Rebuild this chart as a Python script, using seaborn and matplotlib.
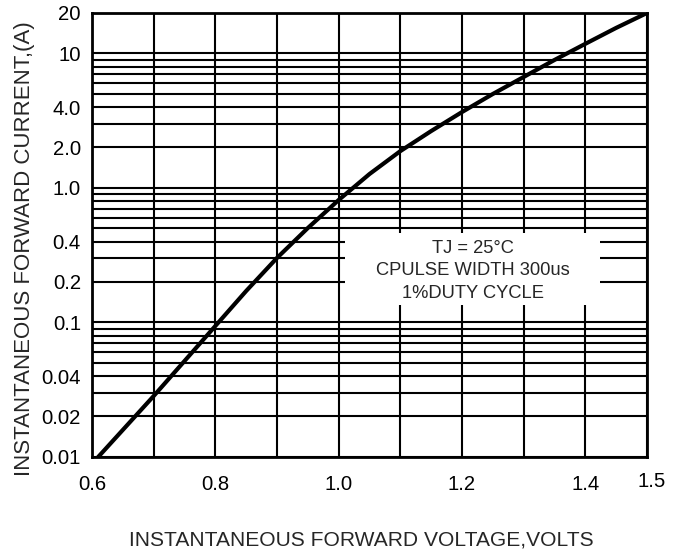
import matplotlib
matplotlib.use("Agg")
import numpy as np
import matplotlib.pyplot as plt
import matplotlib.transforms as mtransforms
from matplotlib.patches import Rectangle
import seaborn as sns

# forward characteristic
volts = [0.61, 0.65, 0.70, 0.75, 0.80, 0.85, 0.90, 0.95, 1.00, 1.05,
         1.10, 1.15, 1.20, 1.25, 1.30, 1.35, 1.40, 1.45, 1.50]
amps = [0.010, 0.0159, 0.0284, 0.0517, 0.0942, 0.1715, 0.302, 0.504, 0.814, 1.27,
        1.88, 2.65, 3.67, 5.00, 6.69, 8.95, 11.8, 15.5, 20.0]

volt_ticks = [0.6, 0.7, 0.8, 0.9, 1.0, 1.1, 1.2, 1.3, 1.4, 1.5]
volt_labels = ["0.6", "", "0.8", "", "1.0", "", "1.2", "", "1.4", "1.5"]

amp_ticks = [0.01, 0.02, 0.04, 0.1, 0.2, 0.4, 1.0, 2.0, 4.0, 10, 20]
amp_labels = ["0.01", "0.02", "0.04", "0.1", "0.2", "0.4",
              "1.0", "2.0", "4.0", "10", "20"]
amp_minor = [0.03, 0.05, 0.06, 0.07, 0.08, 0.09,
             0.3, 0.5, 0.6, 0.7, 0.8, 0.9,
             3, 5, 6, 7, 8, 9]

note = "TJ = 25°C\nCPULSE WIDTH 300us\n1%DUTY CYCLE"

sns.set_style("white")
plt.rcParams["font.family"] = ["Liberation Sans", "DejaVu Sans"]

fig, ax = plt.subplots(figsize=(6.78, 5.55), dpi=100)
fig.subplots_adjust(left=0.1357, right=0.9543, bottom=0.1766, top=0.9766)

sns.lineplot(x=volts, y=amps, ax=ax, color="black", linewidth=3,
             estimator=None, sort=False, zorder=5)

ax.set_yscale("log")
ax.set_xlim(0.6, 1.5)
ax.set_ylim(0.01, 20)

ax.set_xticks(volt_ticks)
ax.set_xticklabels(volt_labels)
ax.set_yticks(amp_ticks)
ax.set_yticklabels(amp_labels)
ax.set_yticks(amp_minor, minor=True)
ax.yaxis.set_minor_formatter(matplotlib.ticker.NullFormatter())

ax.grid(which="both", axis="both", color="black", linewidth=1.5)
ax.set_axisbelow(True)
ax.tick_params(which="both", length=0, labelsize=14.6, colors="black")
ax.tick_params(axis="x", pad=13)
ax.tick_params(axis="y", pad=8)

for side in ["left", "right", "top", "bottom"]:
    ax.spines[side].set_visible(True)
    ax.spines[side].set_color("black")
    ax.spines[side].set_linewidth(2)

# the last voltage label sits a little higher and to the right
last = ax.get_xticklabels()[-1]
last.set_transform(last.get_transform() +
                   mtransforms.ScaledTranslation(0.05, 0.03, fig.dpi_scale_trans))

# white box with the test conditions
ax.add_patch(Rectangle((1.010, 0.135), 0.413, 0.46 - 0.135,
                       facecolor="white", edgecolor="none", zorder=3))
ax.text(1.2175, 0.2415, note, ha="center", va="center", ma="center",
        fontsize=13.2, linespacing=1.42, zorder=4)

ax.set_xlabel("INSTANTANEOUS FORWARD VOLTAGE,VOLTS", fontsize=15.1)
ax.set_ylabel("INSTANTANEOUS FORWARD CURRENT,(A)", fontsize=16)
ax.xaxis.set_label_coords(0.485, -0.187)
ax.xaxis.label.set_va("center")
ax.yaxis.set_label_coords(-0.121, 0.47)
ax.yaxis.label.set_va("center")

fig.savefig("out.png", dpi=100)
plt.close(fig)
